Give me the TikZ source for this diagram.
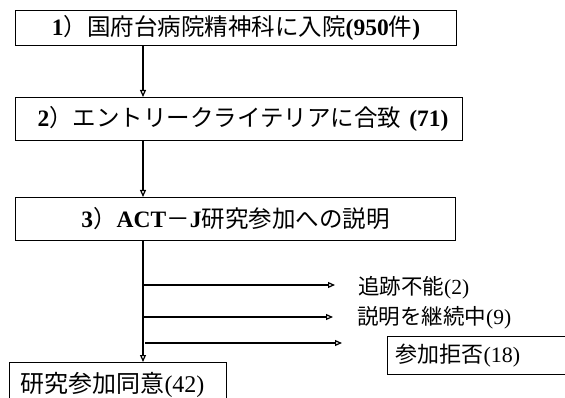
\documentclass[tikz,border=0pt]{standalone}
\usepackage{fontspec}
\setmainfont{Liberation Serif}
\newfontfamily\jpfont{Noto Sans CJK JP}
\newcommand\J[1]{{\jpfont #1}}
\usetikzlibrary{arrows.meta}
\begin{document}
\begin{tikzpicture}[x=1pt,y=-1pt,
  box/.style={draw, line width=1pt, inner sep=0pt, anchor=north west},
  big/.style={font=\fontsize{23.5}{26}\selectfont},
  small/.style={font=\fontsize{22}{25}\selectfont},
  lbl/.style={inner sep=0pt, anchor=west, font=\fontsize{21.5}{24}\selectfont},
  arr/.style={line width=1.2pt, -{Triangle[open,length=7pt,width=6pt]}}]
\clip (0,0) rectangle (565,398);
\fill[white] (0,0) rectangle (565,398);
% main boxes
\node[box, big, minimum width=441pt, minimum height=35pt] (b1) at (15,10)
  {\textbf{1}\J{）国府台病院精神科に入院}\textbf{(950}\J{件}\textbf{)}\hspace{10pt}};
\node[box, big, minimum width=447pt, minimum height=43pt] (b2) at (15,97)
  {\hspace{8pt}\textbf{2}\J{）エントリークライテリアに合致}\hspace{8pt}\textbf{(71)}};
\node[box, big, minimum width=440pt, minimum height=43pt] (b3) at (15,197)
  {\textbf{3}\J{）}\textbf{ACT}\J{－}\textbf{J}\J{研究参加への説明}\hspace{14pt}};
\node[box, font=\fontsize{24}{27}\selectfont, minimum height=45pt, text width=195pt, inner xsep=11pt, align=left] (b4) at (9,362)
  {\J{研究参加同意}(42)};
\node[box, small, minimum height=38pt, text width=200pt, inner xsep=8pt, align=left] (b5) at (387,336)
  {\J{参加拒否}(18)};
% spine
\coordinate (spine) at (143,0);
\draw[arr] (b1.south -| spine) -- (b2.north -| spine);
\draw[arr] (b2.south -| spine) -- (b3.north -| spine);
\draw[arr] (b3.south -| spine) -- (b4.north -| spine);
% branches
\coordinate (e1) at (335,285);
\coordinate (e2) at (333,317);
\coordinate (e3) at (342,343);
\draw[arr] (e1 -| spine) -- (e1);
\draw[arr] (e2 -| spine) -- (e2);
\draw[arr] ([xshift=2pt]e3 -| spine) -- (e3);
\node[lbl] (l1) at (358,288) {\J{追跡不能}(2)};
\node[lbl] (l2) at (357,318) {\J{説明を継続中}(9)};
\end{tikzpicture}
\end{document}
